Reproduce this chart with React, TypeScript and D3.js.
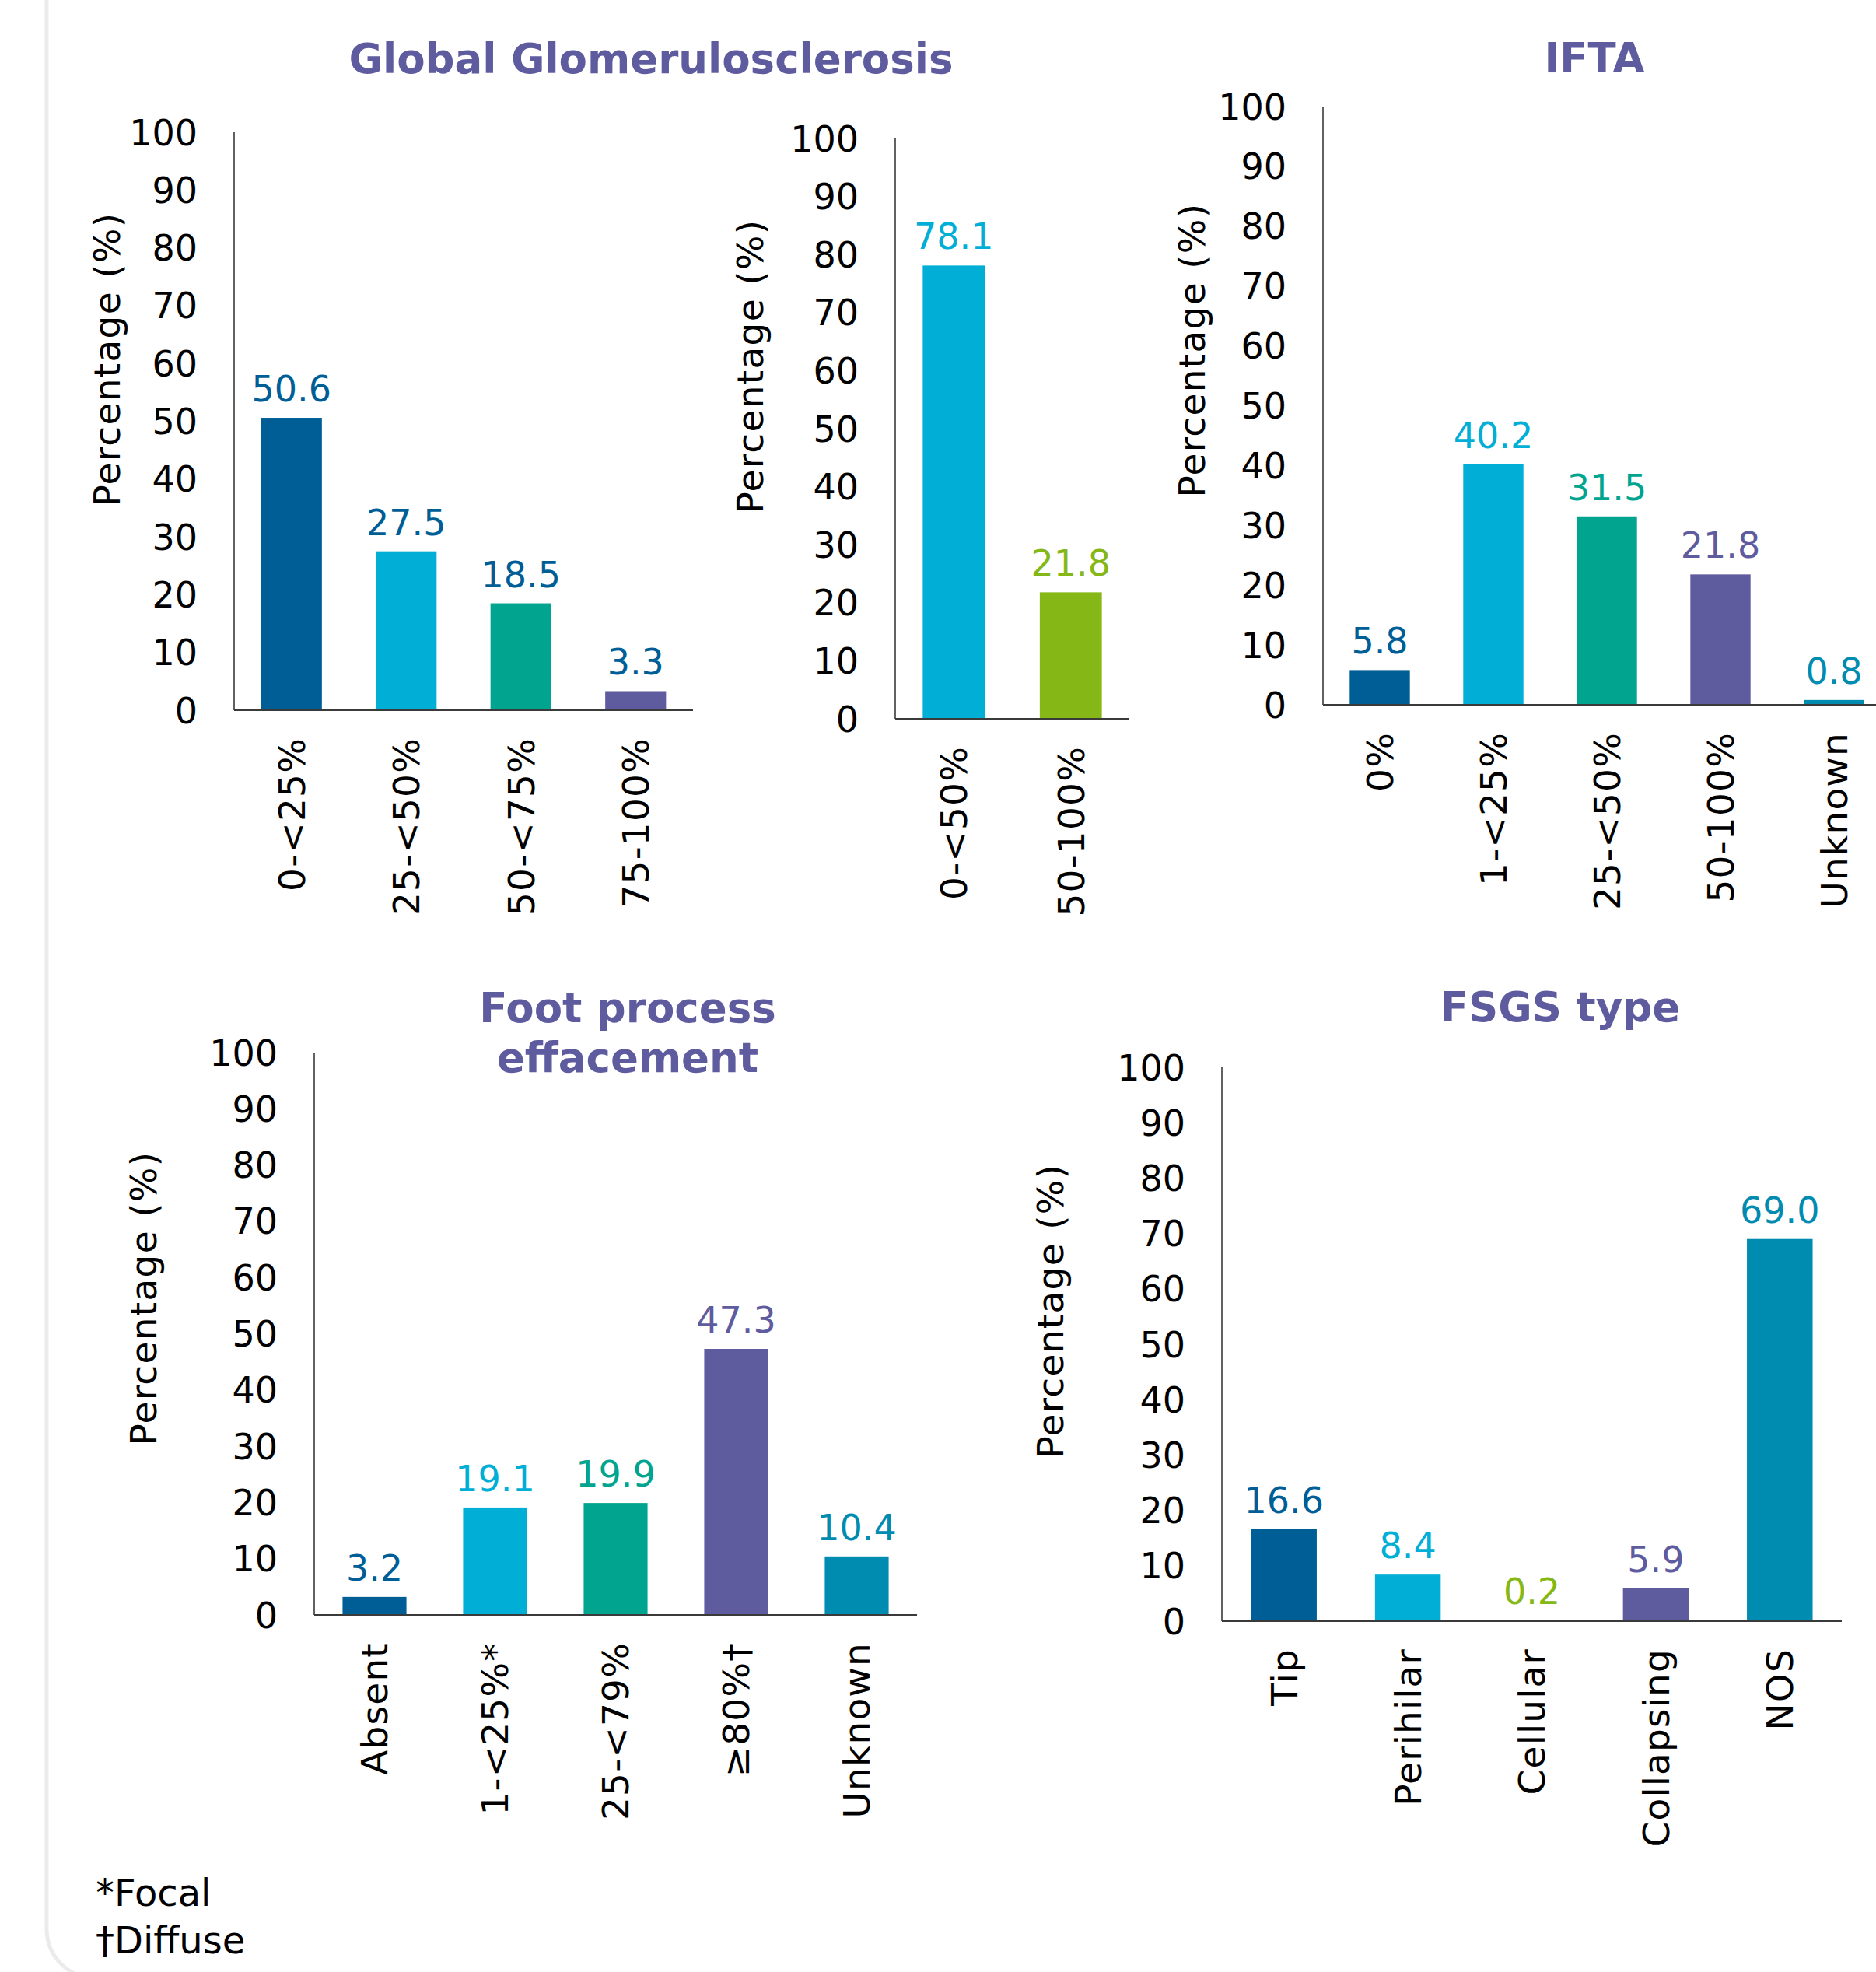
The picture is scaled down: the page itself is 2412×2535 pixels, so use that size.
import React from "react";
import * as d3 from "d3";

// Histopathology distributions (percentage of patients)
const ggCategories = ["0-<25%", "25-<50%", "50-<75%", "75-100%"];
const ggValues = [50.6, 27.5, 18.5, 3.3];

const ggBinaryCategories = ["0-<50%", "50-100%"];
const ggBinaryValues = [78.1, 21.8];

const iftaCategories = ["0%", "1-<25%", "25-<50%", "50-100%", "Unknown"];
const iftaValues = [5.8, 40.2, 31.5, 21.8, 0.8];

const fpeCategories = ["Absent", "1-<25%*", "25-<79%", "\u226580%\u2020", "Unknown"];
const fpeValues = [3.2, 19.1, 19.9, 47.3, 10.4];

const fsgsCategories = ["Tip", "Perihilar", "Cellular", "Collapsing", "NOS"];
const fsgsValues = [16.6, 8.4, 0.2, 5.9, 69.0];

const yTicks = [0, 10, 20, 30, 40, 50, 60, 70, 80, 90, 100];
const footnotes = ["*Focal", "\u2020Diffuse"];

// Palette
const DARK_BLUE = "#005e96";
const LIGHT_BLUE = "#00aed6";
const TEAL = "#00a48f";
const PURPLE = "#5e5b9e";
const SEA_BLUE = "#008bb0";
const LIME = "#85b817";
const TITLE_COLOR = "#5e5b9e";

const FONT = "'DejaVu Sans', Verdana, sans-serif";

type Panel = {
  categories: string[];
  values: number[];
  colors: string[];
  labelColors: string[];
  x0: number;
  x1: number;
  yTop: number;
  yBottom: number;
  yTitleX: number;
  yTitleY: number;
};

const panels: Panel[] = [
  {
    categories: ggCategories,
    values: ggValues,
    colors: [DARK_BLUE, LIGHT_BLUE, TEAL, PURPLE],
    labelColors: [DARK_BLUE, DARK_BLUE, DARK_BLUE, DARK_BLUE],
    x0: 301, x1: 891, yTop: 170, yBottom: 913,
    yTitleX: 137, yTitleY: 462,
  },
  {
    categories: ggBinaryCategories,
    values: ggBinaryValues,
    colors: [LIGHT_BLUE, LIME],
    labelColors: [LIGHT_BLUE, LIME],
    x0: 1151, x1: 1452, yTop: 178, yBottom: 924,
    yTitleX: 964, yTitleY: 471,
  },
  {
    categories: iftaCategories,
    values: iftaValues,
    colors: [DARK_BLUE, LIGHT_BLUE, TEAL, PURPLE, SEA_BLUE],
    labelColors: [DARK_BLUE, LIGHT_BLUE, TEAL, PURPLE, SEA_BLUE],
    x0: 1701, x1: 2431, yTop: 137, yBottom: 906,
    yTitleX: 1532, yTitleY: 450,
  },
  {
    categories: fpeCategories,
    values: fpeValues,
    colors: [DARK_BLUE, LIGHT_BLUE, TEAL, PURPLE, SEA_BLUE],
    labelColors: [DARK_BLUE, LIGHT_BLUE, TEAL, PURPLE, SEA_BLUE],
    x0: 404, x1: 1179, yTop: 1353, yBottom: 2076,
    yTitleX: 184, yTitleY: 1669,
  },
  {
    categories: fsgsCategories,
    values: fsgsValues,
    colors: [DARK_BLUE, LIGHT_BLUE, LIME, PURPLE, SEA_BLUE],
    labelColors: [DARK_BLUE, LIGHT_BLUE, LIME, PURPLE, SEA_BLUE],
    x0: 1571, x1: 2368, yTop: 1372, yBottom: 2084,
    yTitleX: 1350, yTitleY: 1685,
  },
];

const titles = [
  { lines: ["Global Glomerulosclerosis"], x: 837, y: 94 },
  { lines: ["IFTA"], x: 2050, y: 93 },
  { lines: ["Foot process", "effacement"], x: 807, y: 1314 },
  { lines: ["FSGS type"], x: 2006, y: 1313 },
];

function BarPanel({ p }: { p: Panel }) {
  const x = d3
    .scaleBand<string>()
    .domain(p.categories)
    .range([p.x0, p.x1])
    .paddingInner(0.47)
    .paddingOuter(0.235);
  const y = d3.scaleLinear().domain([0, 100]).range([p.yBottom, p.yTop]);

  return (
    <g>
      {/* y axis line and tick labels */}
      <line x1={p.x0} x2={p.x0} y1={y(100)} y2={y(0)} stroke="#3a3a3a" strokeWidth={1.6} />
      {yTicks.map((t) => (
        <text
          key={t}
          x={p.x0 - 47}
          y={y(t)}
          dy="0.36em"
          textAnchor="end"
          fontSize={46}
          fontFamily={FONT}
          fill="#000"
        >
          {t}
        </text>
      ))}
      <text
        transform={`translate(${p.yTitleX},${p.yTitleY}) rotate(-90)`}
        dy="0.36em"
        textAnchor="middle"
        fontSize={47}
        letterSpacing={1.3}
        fontFamily={FONT}
        fill="#000"
      >
        Percentage (%)
      </text>

      {/* bars */}
      {p.categories.map((c, i) => (
        <rect
          key={c}
          x={x(c)}
          y={y(p.values[i])}
          width={x.bandwidth()}
          height={y(0) - y(p.values[i])}
          fill={p.colors[i]}
        />
      ))}

      {/* value labels */}
      {p.categories.map((c, i) => (
        <text
          key={c}
          x={(x(c) as number) + x.bandwidth() / 2}
          y={y(p.values[i]) - 21}
          textAnchor="middle"
          fontSize={46}
          fontFamily={FONT}
          fill={p.labelColors[i]}
        >
          {p.values[i].toFixed(1)}
        </text>
      ))}

      {/* x axis line */}
      <line x1={p.x0} x2={p.x1} y1={y(0)} y2={y(0)} stroke="#3a3a3a" strokeWidth={2.2} />

      {/* category labels */}
      {p.categories.map((c) => (
        <text
          key={c}
          transform={`translate(${(x(c) as number) + x.bandwidth() / 2},${y(0) + 35}) rotate(-90)`}
          dy="0.36em"
          textAnchor="end"
          fontSize={47}
          letterSpacing={1.2}
          fontFamily={FONT}
          fill="#000"
        >
          {c}
        </text>
      ))}
    </g>
  );
}

export default function App() {
  const W = 2412;
  const H = 2535;
  return (
    <svg
      width={W}
      height={H}
      viewBox={`0 0 ${W} ${H}`}
      style={{ position: "absolute", left: 0, top: 0, background: "#fff" }}
    >
      <rect x={0} y={0} width={W} height={H} fill="#fff" />
      {/* rounded frame edge on the left */}
      <path
        d="M 60 -20 L 60 2480 A 63 63 0 0 0 123 2543 L 2500 2543"
        fill="none"
        stroke="#ebebeb"
        strokeWidth={5}
      />

      {titles.map((t, i) => (
        <text
          key={i}
          x={t.x}
          y={t.y}
          textAnchor="middle"
          fontSize={53}
          fontWeight="bold"
          fontFamily={FONT}
          fill={TITLE_COLOR}
        >
          {t.lines.map((l, j) => (
            <tspan key={j} x={t.x} dy={j === 0 ? 0 : 64}>
              {l}
            </tspan>
          ))}
        </text>
      ))}

      {panels.map((p, i) => (
        <BarPanel key={i} p={p} />
      ))}

      {footnotes.map((f, i) => (
        <text
          key={f}
          x={123}
          y={2450 + i * 61}
          fontSize={48}
          fontFamily={FONT}
          fill="#000"
        >
          {f}
        </text>
      ))}
    </svg>
  );
}
